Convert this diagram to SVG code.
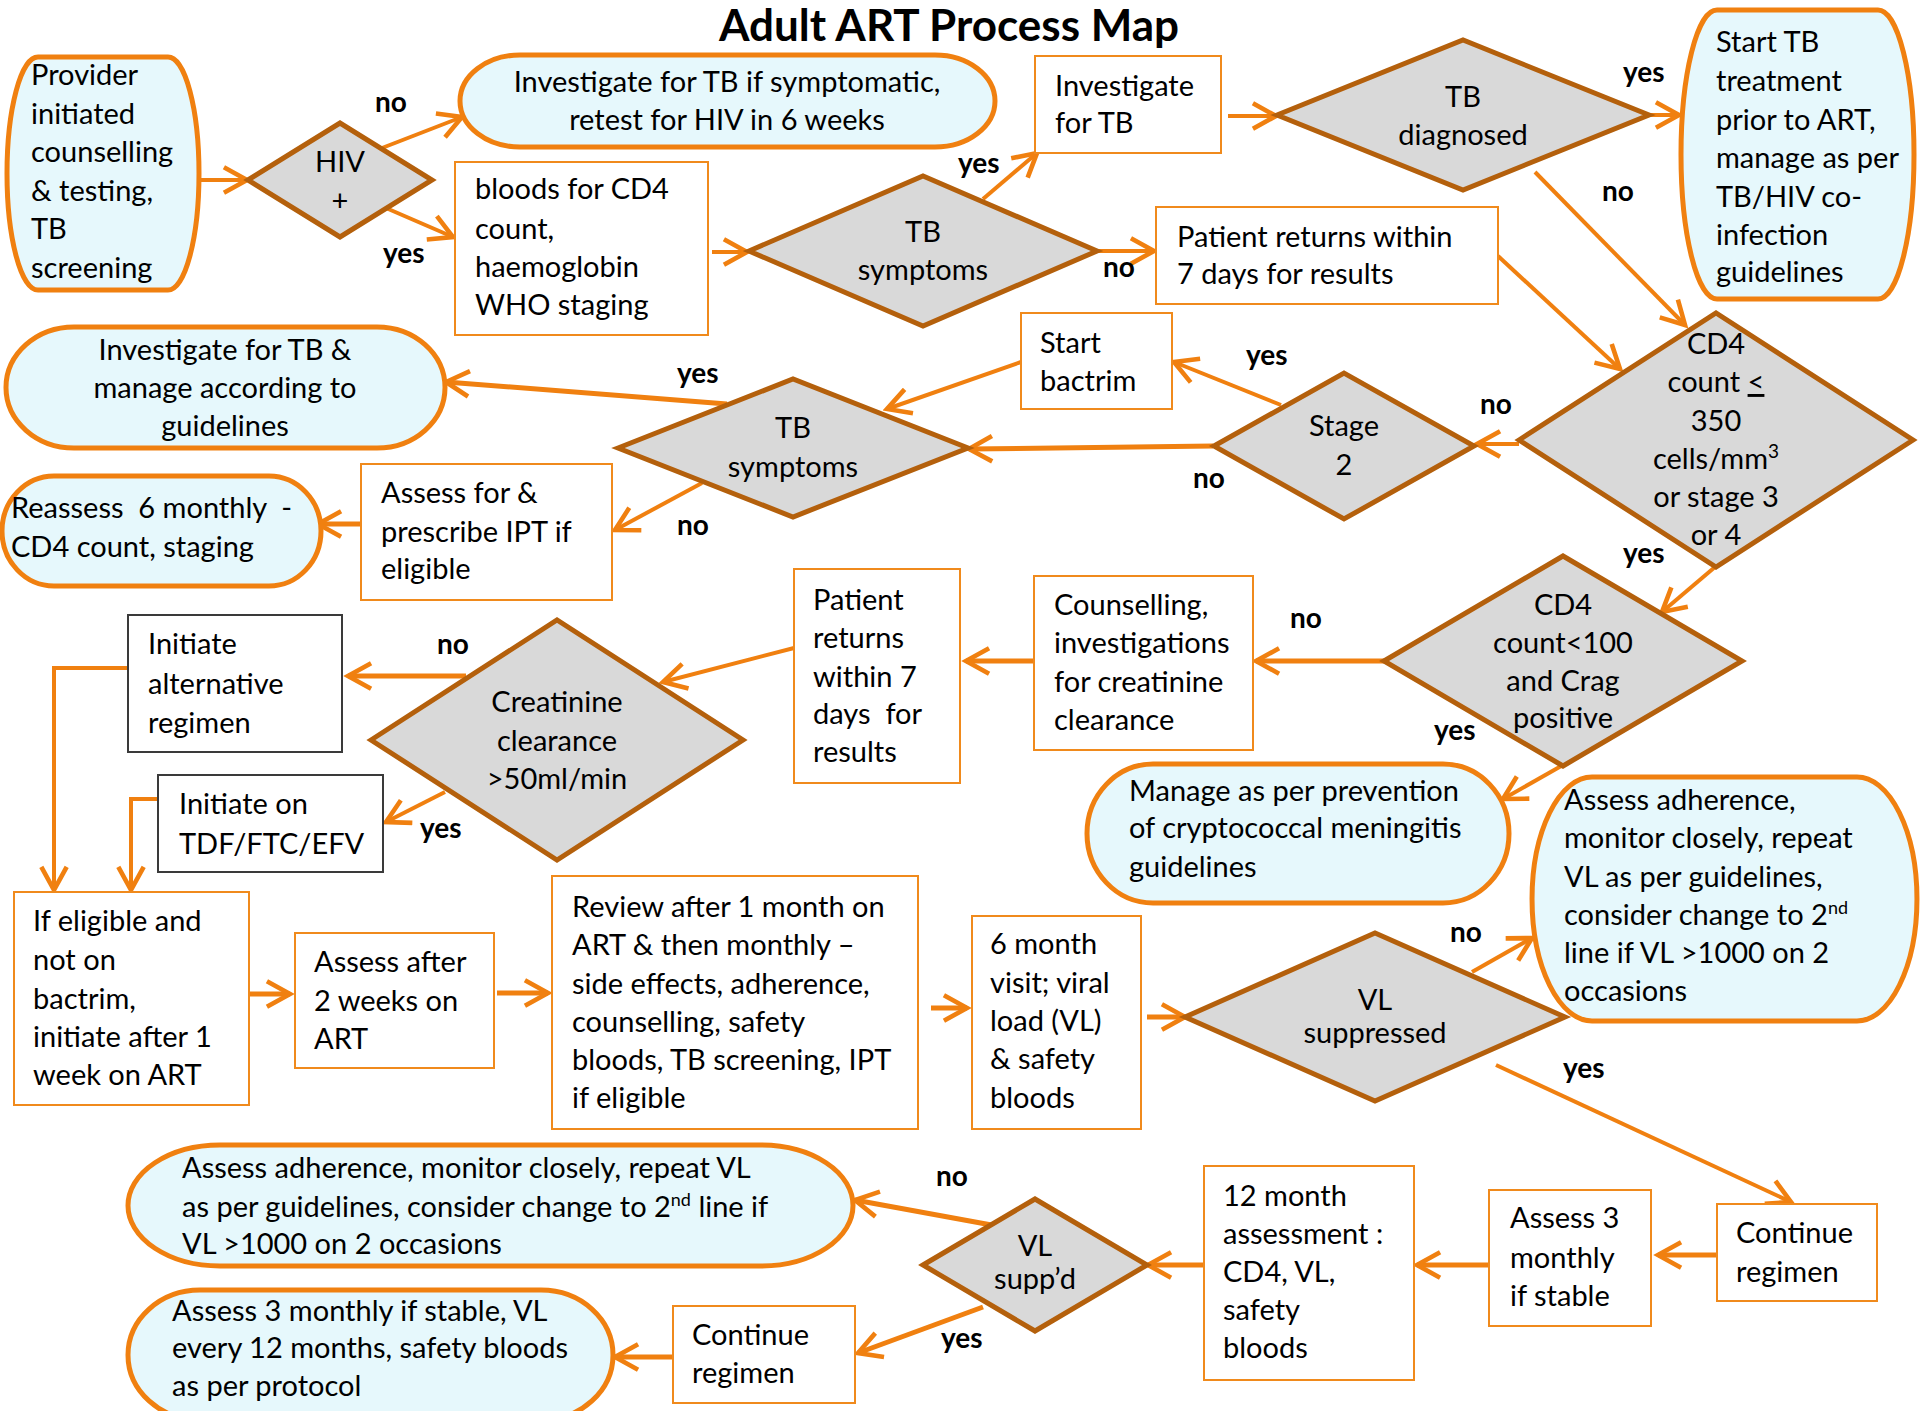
<svg xmlns="http://www.w3.org/2000/svg" width="1920" height="1411" viewBox="0 0 1920 1411">
  <style>
    text { font-family: Lato, "Liberation Sans", sans-serif; font-size: 29px; fill: #000; }
    .c { text-anchor: middle; }
    .lbl { font-weight: bold; font-size: 28px; }
    .title { font-weight: bold; font-size: 44px; text-anchor: middle; }
    .pill { fill: #E6F8FC; stroke: #F08010; stroke-width: 5; }
    .box { fill: #FFFFFF; stroke: #F08A1C; stroke-width: 2; }
    .kbox { fill: #FFFFFF; stroke: #3A3A3A; stroke-width: 2; }
    .dia { fill: #D9D9D9; stroke: #B4600C; stroke-width: 5; }
    .con { fill: none; stroke: #F08010; stroke-width: 4; marker-end: url(#ah); }
    .thick { stroke-width: 5; }
    .pre { white-space: pre; }
  </style>
  <defs>
    <marker id="ah" markerUnits="userSpaceOnUse" markerWidth="30" markerHeight="30" refX="22" refY="12" viewBox="0 0 26 24" orient="auto">
      <path d="M2,1 L22,12 L2,23" fill="none" stroke="#F08010" stroke-width="4"/>
    </marker>
  </defs>

  <rect width="1920" height="1411" fill="#FFFFFF"/>
  <text class="title" x="949" y="41">Adult ART Process Map</text>

  <!-- connectors -->
  <g id="connectors">
    <line class="con" x1="199" y1="180" x2="247" y2="180"/>
    <line class="con" x1="382" y1="148" x2="462" y2="117"/>
    <line class="con" x1="386" y1="208" x2="453" y2="237"/>
    <line class="con" x1="712" y1="252" x2="747" y2="252"/>
    <line class="con" x1="983" y1="199" x2="1037" y2="153"/>
    <line class="con" x1="1096" y1="251" x2="1154" y2="251"/>
    <line class="con" x1="1228" y1="116" x2="1276" y2="116"/>
    <line class="con" x1="1648" y1="115" x2="1679" y2="115"/>
    <line class="con" x1="1535" y1="172" x2="1685" y2="325"/>
    <line class="con" x1="1498" y1="256" x2="1620" y2="369"/>
    <line class="con" x1="1519" y1="444" x2="1477" y2="444"/>
    <line class="con" x1="1281" y1="405" x2="1174" y2="362"/>
    <line class="con thick" x1="1213" y1="446" x2="969" y2="449"/>
    <line class="con" x1="1021" y1="362" x2="887" y2="409"/>
    <line class="con thick" x1="727" y1="404" x2="446" y2="382"/>
    <line class="con" x1="702" y1="483" x2="615" y2="530"/>
    <line class="con thick" x1="361" y1="524" x2="318" y2="524"/>
    <line class="con" x1="1715" y1="567" x2="1662" y2="612"/>
    <line class="con thick" x1="1384" y1="661" x2="1256" y2="661"/>
    <line class="con" x1="1563" y1="765" x2="1503" y2="799"/>
    <line class="con thick" x1="1034" y1="661" x2="966" y2="661"/>
    <line class="con" x1="794" y1="648" x2="663" y2="682"/>
    <line class="con thick" x1="466" y1="676" x2="348" y2="676"/>
    <line class="con" x1="445" y1="792" x2="386" y2="822"/>
    <polyline class="con" points="128,668 54,668 54,890"/>
    <polyline class="con" points="158,799 131,799 131,890"/>
    <line class="con thick" x1="250" y1="994" x2="290" y2="994"/>
    <line class="con thick" x1="497" y1="993" x2="548" y2="993"/>
    <line class="con thick" x1="931" y1="1008" x2="967" y2="1008"/>
    <line class="con thick" x1="1147" y1="1017" x2="1185" y2="1017"/>
    <line class="con" x1="1472" y1="972" x2="1532" y2="938"/>
    <line class="con" x1="1496" y1="1065" x2="1791" y2="1202"/>
    <line class="con thick" x1="1717" y1="1255" x2="1658" y2="1255"/>
    <line class="con thick" x1="1489" y1="1265" x2="1417" y2="1265"/>
    <line class="con thick" x1="1204" y1="1265" x2="1148" y2="1265"/>
    <line class="con thick" x1="997" y1="1226" x2="855" y2="1200"/>
    <line class="con thick" x1="983" y1="1307" x2="858" y2="1353"/>
    <line class="con thick" x1="673" y1="1357" x2="615" y2="1357"/>
  </g>

  <!-- branch labels -->
  <g id="labels">
    <text class="lbl" x="375" y="112">no</text>
    <text class="lbl" x="383" y="263">yes</text>
    <text class="lbl" x="958" y="173">yes</text>
    <text class="lbl" x="1103" y="277">no</text>
    <text class="lbl" x="1623" y="82">yes</text>
    <text class="lbl" x="1602" y="201">no</text>
    <text class="lbl" x="1480" y="414">no</text>
    <text class="lbl" x="1246" y="365">yes</text>
    <text class="lbl" x="1193" y="488">no</text>
    <text class="lbl" x="677" y="383">yes</text>
    <text class="lbl" x="677" y="535">no</text>
    <text class="lbl" x="1623" y="563">yes</text>
    <text class="lbl" x="1290" y="628">no</text>
    <text class="lbl" x="1434" y="740">yes</text>
    <text class="lbl" x="437" y="654">no</text>
    <text class="lbl" x="420" y="838">yes</text>
    <text class="lbl" x="1450" y="942">no</text>
    <text class="lbl" x="1563" y="1078">yes</text>
    <text class="lbl" x="936" y="1186">no</text>
    <text class="lbl" x="941" y="1348">yes</text>
  </g>

  <!-- terminator shapes -->
  <g id="provider">
    <path class="pill" d="M38,57 H168 A31,116.5 0 0 1 168,290 H38 A31,116.5 0 0 1 38,57 Z"/>
    <text x="31" y="85">Provider</text>
    <text x="31" y="124">initiated</text>
    <text x="31" y="162">counselling</text>
    <text x="31" y="201">&amp; testing,</text>
    <text x="31" y="239">TB</text>
    <text x="31" y="278">screening</text>
  </g>
  <g id="investigate-symptomatic">
    <path class="pill" d="M520,55 H935 A60,46 0 0 1 935,147 H520 A60,46 0 0 1 520,55 Z"/>
    <text class="c" x="727" y="92">Investigate for TB if symptomatic,</text>
    <text class="c" x="727" y="130">retest for HIV in 6 weeks</text>
  </g>
  <g id="start-tb">
    <path class="pill" d="M1717,10 H1878 A36,144.5 0 0 1 1878,299 H1717 A36,144.5 0 0 1 1717,10 Z"/>
    <text x="1716" y="52">Start TB</text>
    <text x="1716" y="91">treatment</text>
    <text x="1716" y="130">prior to ART,</text>
    <text x="1716" y="168">manage as per</text>
    <text x="1716" y="207">TB/HIV co-</text>
    <text x="1716" y="245">infection</text>
    <text x="1716" y="282">guidelines</text>
  </g>
  <g id="investigate-manage">
    <path class="pill" d="M74,327 H377 A68,60.5 0 0 1 377,448 H74 A68,60.5 0 0 1 74,327 Z"/>
    <text class="c" x="225" y="360">Investigate for TB &amp;</text>
    <text class="c" x="225" y="398">manage according to</text>
    <text class="c" x="225" y="436">guidelines</text>
  </g>
  <g id="reassess">
    <path class="pill" d="M54,476 H269 A52,55 0 0 1 269,586 H54 A52,55 0 0 1 54,476 Z"/>
    <text class="pre" x="11" y="518">Reassess  6 monthly  -</text>
    <text x="11" y="557">CD4 count, staging</text>
  </g>
  <g id="manage-crypto">
    <path class="pill" d="M1153,764 H1443 A66,69.5 0 0 1 1443,903 H1153 A66,69.5 0 0 1 1153,764 Z"/>
    <text x="1129" y="801">Manage as per prevention</text>
    <text x="1129" y="838">of cryptococcal meningitis</text>
    <text x="1129" y="877">guidelines</text>
  </g>
  <g id="adherence-6m">
    <path class="pill" d="M1592,777 H1857 A60,122 0 0 1 1857,1021 H1592 A60,122 0 0 1 1592,777 Z"/>
    <text x="1564" y="810">Assess adherence,</text>
    <text x="1564" y="848">monitor closely, repeat</text>
    <text x="1564" y="887">VL as per guidelines,</text>
    <text x="1564" y="925">consider change to 2<tspan font-size="18" dy="-11">nd</tspan></text>
    <text x="1564" y="963">line if VL &gt;1000 on 2</text>
    <text x="1564" y="1001">occasions</text>
  </g>
  <g id="adherence-12m">
    <path class="pill" d="M220,1145 H761 A92,60.5 0 0 1 761,1266 H220 A92,60.5 0 0 1 220,1145 Z"/>
    <text x="182" y="1178">Assess adherence, monitor closely, repeat VL</text>
    <text x="182" y="1217">as per guidelines, consider change to 2<tspan font-size="18" dy="-11">nd</tspan><tspan dy="11"> line if</tspan></text>
    <text x="182" y="1254">VL &gt;1000 on 2 occasions</text>
  </g>
  <g id="assess-3m-stable">
    <path class="pill" d="M200,1290 H541 A72,65 0 0 1 541,1420 H200 A72,65 0 0 1 200,1290 Z"/>
    <text x="172" y="1321">Assess 3 monthly if stable, VL</text>
    <text x="172" y="1358">every 12 months, safety bloods</text>
    <text x="172" y="1396">as per protocol</text>
  </g>

  <!-- process boxes -->
  <g id="bloods">
    <rect class="box" x="455" y="162" width="253" height="173"/>
    <text x="475" y="199">bloods for CD4</text>
    <text x="475" y="239">count,</text>
    <text x="475" y="277">haemoglobin</text>
    <text x="475" y="315">WHO staging</text>
  </g>
  <g id="investigate-tb">
    <rect class="box" x="1035" y="56" width="186" height="97"/>
    <text x="1055" y="96">Investigate</text>
    <text x="1055" y="133">for TB</text>
  </g>
  <g id="returns-7days">
    <rect class="box" x="1156" y="207" width="342" height="97"/>
    <text x="1177" y="247">Patient returns within</text>
    <text x="1177" y="284">7 days for results</text>
  </g>
  <g id="start-bactrim">
    <rect class="box" x="1021" y="313" width="151" height="96"/>
    <text x="1040" y="353">Start</text>
    <text x="1040" y="391">bactrim</text>
  </g>
  <g id="assess-ipt">
    <rect class="box" x="361" y="464" width="251" height="136"/>
    <text x="381" y="503">Assess for &amp;</text>
    <text x="381" y="542">prescribe IPT if</text>
    <text x="381" y="579">eligible</text>
  </g>
  <g id="returns-results">
    <rect class="box" x="794" y="569" width="166" height="214"/>
    <text x="813" y="610">Patient</text>
    <text x="813" y="648">returns</text>
    <text x="813" y="687">within 7</text>
    <text class="pre" x="813" y="724">days  for</text>
    <text x="813" y="762">results</text>
  </g>
  <g id="counselling">
    <rect class="box" x="1034" y="576" width="219" height="174"/>
    <text x="1054" y="615">Counselling,</text>
    <text x="1054" y="653">investigations</text>
    <text x="1054" y="692">for creatinine</text>
    <text x="1054" y="730">clearance</text>
  </g>
  <g id="initiate-alternative">
    <rect class="kbox" x="128" y="615" width="214" height="137"/>
    <text x="148" y="654">Initiate</text>
    <text x="148" y="694">alternative</text>
    <text x="148" y="733">regimen</text>
  </g>
  <g id="initiate-tdf">
    <rect class="kbox" x="158" y="775" width="225" height="97"/>
    <text x="179" y="814">Initiate on</text>
    <text x="179" y="854">TDF/FTC/EFV</text>
  </g>
  <g id="if-eligible">
    <rect class="box" x="14" y="892" width="235" height="213"/>
    <text x="33" y="931">If eligible and</text>
    <text x="33" y="970">not on</text>
    <text x="33" y="1009">bactrim,</text>
    <text x="33" y="1047">initiate after 1</text>
    <text x="33" y="1085">week on ART</text>
  </g>
  <g id="assess-2weeks">
    <rect class="box" x="295" y="933" width="199" height="135"/>
    <text x="314" y="972">Assess after</text>
    <text x="314" y="1011">2 weeks on</text>
    <text x="314" y="1049">ART</text>
  </g>
  <g id="review-1month">
    <rect class="box" x="552" y="876" width="366" height="253"/>
    <text x="572" y="917">Review after 1 month on</text>
    <text x="572" y="955">ART &amp; then monthly –</text>
    <text x="572" y="994">side effects, adherence,</text>
    <text x="572" y="1032">counselling, safety</text>
    <text x="572" y="1070">bloods, TB screening, IPT</text>
    <text x="572" y="1108">if eligible</text>
  </g>
  <g id="visit-6month">
    <rect class="box" x="972" y="916" width="169" height="213"/>
    <text x="990" y="954">6 month</text>
    <text x="990" y="993">visit; viral</text>
    <text x="990" y="1031">load (VL)</text>
    <text x="990" y="1069">&amp; safety</text>
    <text x="990" y="1108">bloods</text>
  </g>
  <g id="continue-regimen-a">
    <rect class="box" x="1717" y="1204" width="160" height="97"/>
    <text x="1736" y="1243">Continue</text>
    <text x="1736" y="1282">regimen</text>
  </g>
  <g id="assess-3monthly">
    <rect class="box" x="1489" y="1190" width="162" height="136"/>
    <text x="1510" y="1228">Assess 3</text>
    <text x="1510" y="1268">monthly</text>
    <text x="1510" y="1306">if stable</text>
  </g>
  <g id="assessment-12month">
    <rect class="box" x="1204" y="1166" width="210" height="214"/>
    <text x="1223" y="1206">12 month</text>
    <text x="1223" y="1244">assessment :</text>
    <text x="1223" y="1282">CD4, VL,</text>
    <text x="1223" y="1320">safety</text>
    <text x="1223" y="1358">bloods</text>
  </g>
  <g id="continue-regimen-b">
    <rect class="box" x="673" y="1306" width="182" height="97"/>
    <text x="692" y="1345">Continue</text>
    <text x="692" y="1383">regimen</text>
  </g>

  <!-- decisions -->
  <g id="hiv">
    <polygon class="dia" points="248,180 340,123 432,180 340,237"/>
    <text class="c" x="340" y="172">HIV</text>
    <text class="c" x="340" y="211">+</text>
  </g>
  <g id="tb-symptoms-a">
    <polygon class="dia" points="749,251 923,176 1097,251 923,326"/>
    <text class="c" x="923" y="242">TB</text>
    <text class="c" x="923" y="280">symptoms</text>
  </g>
  <g id="tb-diagnosed">
    <polygon class="dia" points="1277,115 1463,40 1649,115 1463,190"/>
    <text class="c" x="1463" y="107">TB</text>
    <text class="c" x="1463" y="145">diagnosed</text>
  </g>
  <g id="cd4-350">
    <polygon class="dia" points="1519,440 1716,313 1913,440 1716,567"/>
    <text class="c" x="1716" y="354">CD4</text>
    <text class="c" x="1716" y="392">count <tspan text-decoration="underline">&lt;</tspan></text>
    <text class="c" x="1716" y="431">350</text>
    <text class="c" x="1716" y="469">cells/mm<tspan font-size="19" dy="-11">3</tspan></text>
    <text class="c" x="1716" y="507">or stage 3</text>
    <text class="c" x="1716" y="545">or 4</text>
  </g>
  <g id="stage-2">
    <polygon class="dia" points="1214,446 1344,373 1474,446 1344,519"/>
    <text class="c" x="1344" y="436">Stage</text>
    <text class="c" x="1344" y="475">2</text>
  </g>
  <g id="tb-symptoms-b">
    <polygon class="dia" points="618,448 793,379 968,448 793,517"/>
    <text class="c" x="793" y="438">TB</text>
    <text class="c" x="793" y="477">symptoms</text>
  </g>
  <g id="cd4-100-crag">
    <polygon class="dia" points="1384,661 1563,556 1742,661 1563,766"/>
    <text class="c" x="1563" y="615">CD4</text>
    <text class="c" x="1563" y="653">count&lt;100</text>
    <text class="c" x="1563" y="691">and Crag</text>
    <text class="c" x="1563" y="728">positive</text>
  </g>
  <g id="creatinine">
    <polygon class="dia" points="371,740 557,620 743,740 557,860"/>
    <text class="c" x="557" y="712">Creatinine</text>
    <text class="c" x="557" y="751">clearance</text>
    <text class="c" x="557" y="789">&gt;50ml/min</text>
  </g>
  <g id="vl-suppressed">
    <polygon class="dia" points="1185,1017 1375,933 1565,1017 1375,1101"/>
    <text class="c" x="1375" y="1010" font-size="25">VL</text>
    <text class="c" x="1375" y="1043" font-size="25">suppressed</text>
  </g>
  <g id="vl-suppd">
    <polygon class="dia" points="923,1265 1035,1199 1147,1265 1035,1331"/>
    <text class="c" x="1035" y="1256" font-size="21">VL</text>
    <text class="c" x="1035" y="1289" font-size="21">supp’d</text>
  </g>
</svg>
